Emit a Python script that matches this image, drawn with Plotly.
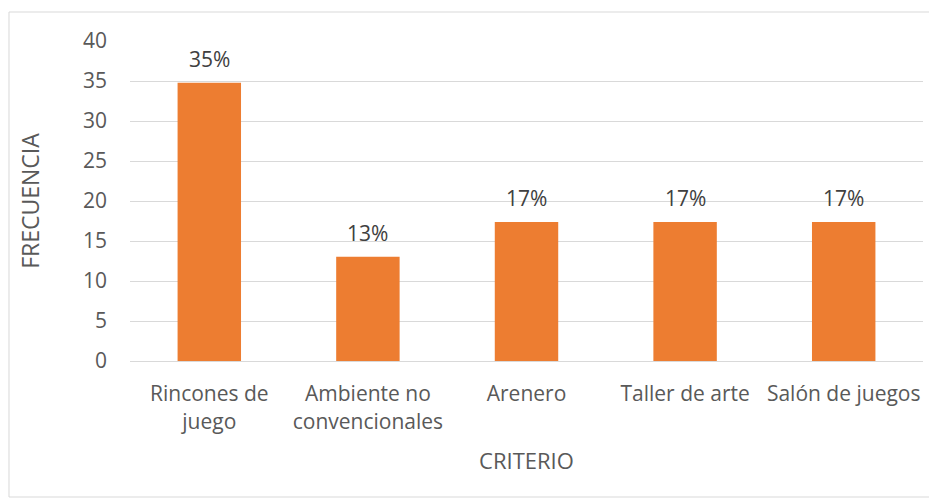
import plotly.graph_objects as go

categories = ["Rincones de<br>juego", "Ambiente no<br>convencionales", "Arenero", "Taller de arte", "Salón de juegos"]
values = [34.78, 13.04, 17.39, 17.39, 17.39]
labels = ["35%", "13%", "17%", "17%", "17%"]
y_ticks = [0, 5, 10, 15, 20, 25, 30, 35, 40]

FONT = "'Open Sans', sans-serif"
GREY = "#595959"

fig = go.Figure(go.Bar(
    x=categories, y=values,
    marker=dict(color="#ED7D31", line=dict(width=0)),
    width=0.4,
    hoverinfo="x+y",
))

for c, v, t in zip(categories, values, labels):
    fig.add_annotation(x=c, y=v, text=t, showarrow=False, yanchor="bottom",
                       yshift=8, font=dict(family=FONT, size=21, color="#404040"))

fig.update_layout(
    width=937, height=499,
    margin=dict(l=122, r=22, t=33, b=146),
    paper_bgcolor="white", plot_bgcolor="white",
    font=dict(family=FONT, size=21, color=GREY),
    showlegend=False,
    xaxis=dict(
        title=dict(text="CRITERIO", font=dict(size=22, color=GREY), standoff=20),
        showline=True, linecolor="#d9d9d9", linewidth=1,
        ticks="", tickfont=dict(size=21, color=GREY), ticklabelstandoff=14,
    ),
    yaxis=dict(
        title=dict(text="FRECUENCIA", font=dict(size=23, color=GREY), standoff=36),
        range=[0, 40], tickvals=y_ticks, showgrid=True, gridcolor="#d9d9d9", gridwidth=1,
        zeroline=False, ticks="", tickfont=dict(size=21, color=GREY), ticklabelstandoff=22,
    ),
    shapes=[dict(type="rect", xref="paper", yref="paper",
                 x0=-0.1526, x1=1.0151, y0=-0.425, y1=1.0906,
                 line=dict(color="#d9d9d9", width=1), fillcolor="rgba(0,0,0,0)", layer="below")],
)

fig.write_html("out.html")
